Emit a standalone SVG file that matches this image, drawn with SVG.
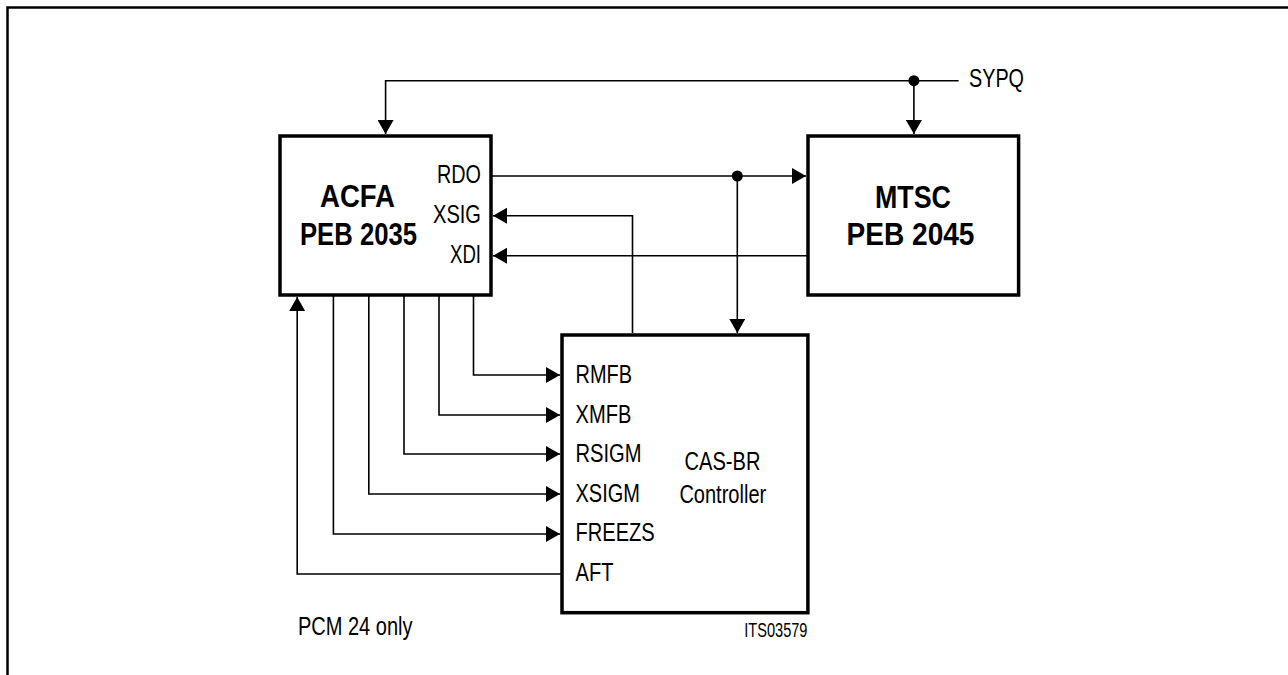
<svg xmlns="http://www.w3.org/2000/svg" width="1288" height="675" viewBox="0 0 1288 675">
<style>
text{font-family:"Liberation Sans",Arial,sans-serif;fill:#000}
.b{font-weight:bold;font-size:31px}
.l{font-size:25px}
.s{font-size:20px}
.box{fill:#fff;stroke:#000;stroke-width:3.5}
.w{fill:none;stroke:#000;stroke-width:1.6}
</style>
<defs>
<marker id="ah" viewBox="0 0 14 16" refX="14" refY="8" markerWidth="14" markerHeight="16" markerUnits="userSpaceOnUse" orient="auto">
<path d="M0,0 L14,8 L0,16 Z" fill="#000"/>
</marker>
</defs>
<rect width="1288" height="675" fill="#fff"/>
<path d="M7.5,675 V7.5 H1288" fill="none" stroke="#000" stroke-width="2.5"/>
<g id="connectors">
<path class="w" d="M958.6,80.7 H385.6 V134" marker-end="url(#ah)"/>
<path class="w" d="M913.9,80.7 V134" marker-end="url(#ah)"/>
<path class="w" d="M492,176 H806" marker-end="url(#ah)"/>
<path class="w" d="M737.3,176 V333" marker-end="url(#ah)"/>
<path class="w" d="M632.5,333 V215.7 H493" marker-end="url(#ah)"/>
<path class="w" d="M808,255.7 H493" marker-end="url(#ah)"/>
<path class="w" d="M473.5,296 V375 H560" marker-end="url(#ah)"/>
<path class="w" d="M439,296 V415 H560" marker-end="url(#ah)"/>
<path class="w" d="M404,296 V454 H560" marker-end="url(#ah)"/>
<path class="w" d="M368.8,296 V494 H560" marker-end="url(#ah)"/>
<path class="w" d="M333.4,296 V534 H560" marker-end="url(#ah)"/>
<path class="w" d="M562,574 H297.2 V297" marker-end="url(#ah)"/>
<circle cx="913.9" cy="80.7" r="5.5" fill="#000"/>
<circle cx="737.3" cy="176" r="5.5" fill="#000"/>
</g>
<g id="acfa">
<rect class="box" x="280" y="136" width="211" height="159"/>
<text class="b" x="357.5" y="207" text-anchor="middle" textLength="75" lengthAdjust="spacingAndGlyphs">ACFA</text>
<text class="b" x="358.5" y="245" text-anchor="middle" textLength="117" lengthAdjust="spacingAndGlyphs">PEB 2035</text>
<text class="l" x="481" y="183" text-anchor="end" textLength="44" lengthAdjust="spacingAndGlyphs">RDO</text>
<text class="l" x="481" y="223" text-anchor="end" textLength="48" lengthAdjust="spacingAndGlyphs">XSIG</text>
<text class="l" x="481" y="263" text-anchor="end" textLength="31" lengthAdjust="spacingAndGlyphs">XDI</text>
</g>
<g id="mtsc">
<rect class="box" x="808" y="136" width="210.6" height="159"/>
<text class="b" x="913" y="208" text-anchor="middle" textLength="76" lengthAdjust="spacingAndGlyphs">MTSC</text>
<text class="b" x="910.5" y="245" text-anchor="middle" textLength="128" lengthAdjust="spacingAndGlyphs">PEB 2045</text>
</g>
<g id="sypq">
<text class="l" x="969" y="87" font-size="26" textLength="55" lengthAdjust="spacingAndGlyphs">SYPQ</text>
</g>
<g id="casbr">
<rect class="box" x="562" y="335" width="245.9" height="277.7"/>
<text class="l" x="575.5" y="383" textLength="56.5" lengthAdjust="spacingAndGlyphs">RMFB</text>
<text class="l" x="575.5" y="422.7" textLength="55.8" lengthAdjust="spacingAndGlyphs">XMFB</text>
<text class="l" x="575.5" y="461.7" textLength="66" lengthAdjust="spacingAndGlyphs">RSIGM</text>
<text class="l" x="575.5" y="501.7" textLength="64.4" lengthAdjust="spacingAndGlyphs">XSIGM</text>
<text class="l" x="575.5" y="541" textLength="79.2" lengthAdjust="spacingAndGlyphs">FREEZS</text>
<text class="l" x="575.5" y="581" textLength="37.9" lengthAdjust="spacingAndGlyphs">AFT</text>
<text class="l" x="722.5" y="470" text-anchor="middle" textLength="75.8" lengthAdjust="spacingAndGlyphs">CAS-BR</text>
<text class="l" x="722.8" y="503" text-anchor="middle" textLength="86.8" lengthAdjust="spacingAndGlyphs">Controller</text>
</g>
<g id="notes">
<text class="l" x="297.9" y="635" textLength="114.7" lengthAdjust="spacingAndGlyphs">PCM 24 only</text>
<text class="s" x="807.5" y="636.7" text-anchor="end" textLength="63.3" lengthAdjust="spacingAndGlyphs">ITS03579</text>
</g>
</svg>
